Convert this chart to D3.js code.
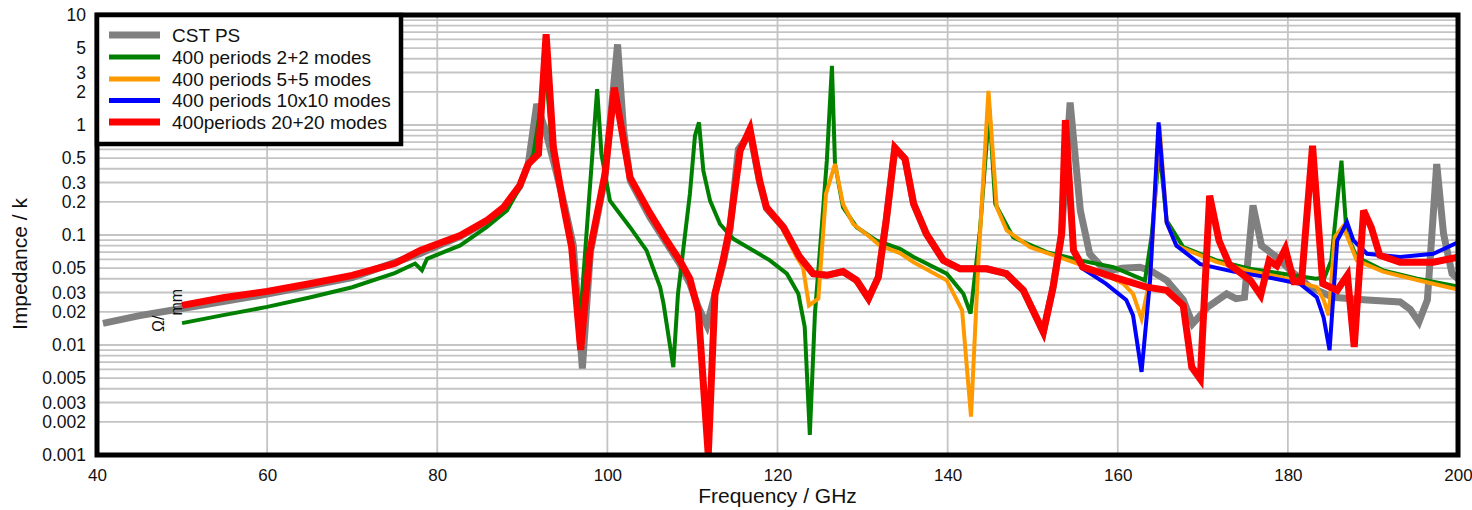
<!DOCTYPE html>
<html>
<head>
<meta charset="utf-8">
<script src="https://cdn.jsdelivr.net/npm/d3@7"></script>
<style>
  html, body { margin: 0; padding: 0; background: #fff; }
  svg { display: block; font-family: "Liberation Sans", Arial, sans-serif; }
</style>
</head>
<body>
<svg id="chart" width="1472" height="510"></svg>
<script>
// Longitudinal impedance vs frequency, [GHz, value]
const cstPS = [
  [40.7,0.0157],[45,0.0185],[50,0.0215],[60,0.029],[70,0.041],[78,0.068],[82.7,0.097],
  [85.8,0.132],[87.8,0.175],[89.7,0.275],[90.7,0.44],[91.7,1.55],[92.8,0.85],[93.9,0.4],
  [95,0.18],[96,0.08],[97.06,0.0061],[98,0.07],[99.7,0.33],[101.2,5.4],[101.9,0.9],
  [102.7,0.31],[105,0.145],[107,0.083],[108.5,0.055],[109.7,0.036],[110.7,0.022],
  [111.7,0.0151],[112.6,0.028],[113.6,0.055],[114.4,0.11],[115.4,0.6],[116.8,0.85],
  [117.9,0.3],[118.7,0.175],[120.7,0.117],[122.6,0.063],[124.2,0.0445],[125.8,0.043],
  [127.7,0.0465],[129.3,0.0387],[130.7,0.0264],[131.85,0.0414],[132.8,0.14],[133.8,0.62],
  [135,0.49],[136,0.192],[137.5,0.1025],[139.5,0.0588],[141.5,0.0493],[144.6,0.0493],
  [146.9,0.0445],[148.9,0.0314],[151.25,0.0131],[152.4,0.0336],[153.4,0.1025],[154.4,1.6],
  [155.6,0.167],[156.7,0.0675],[158.6,0.0465],[160.5,0.05],[162.6,0.051],[163.8,0.0477],
  [165.75,0.0387],[167.7,0.0257],[168.8,0.0156],[170.6,0.0222],[172.8,0.0292],[173.9,0.0264],
  [174.9,0.0272],[175.9,0.186],[176.9,0.08],[178.7,0.063],[180.3,0.0477],[182.6,0.0336],
  [185.3,0.0272],[189.3,0.0257],[193.2,0.0246],[194.4,0.021],[195.4,0.0162],[196.4,0.0257],
  [197.5,0.442],[198.3,0.1025],[199.3,0.0445],[200,0.04]
];

const modes2 = [
  [50,0.0158],[55,0.0188],[60,0.0222],[65,0.027],[70,0.0335],[75,0.045],[77.4,0.055],
  [78.2,0.0477],[78.8,0.0608],[82.7,0.0803],
  [85.8,0.118],[88.2,0.167],[89.7,0.27],[90.7,0.43],[91.3,0.545],[92.8,3.0],[93.5,0.6],
  [94.8,0.19],[95.8,0.07],[96.8,0.017],[98.8,2.12],[99.3,0.545],[100.3,0.2055],[102.66,0.1177],
  [104.6,0.0724],[106.2,0.0336],[106.6,0.0238],[107.75,0.0063],[108.3,0.0292],[109.7,0.236],
  [110.3,0.8],[110.77,1.055],[111.28,0.385],[112.07,0.2055],[113.24,0.126],[114.8,0.0923],
  [116.8,0.075],[119.1,0.0588],[121.1,0.0445],[122.45,0.0292],[123.2,0.0146],[123.8,0.00152],
  [124.4,0.0193],[125.2,0.1177],[125.8,0.474],[126.4,3.45],[126.76,0.442],[127.7,0.1787],
  [129.3,0.1177],[131.6,0.0891],[134.4,0.075],[136,0.063],[139.9,0.0445],[141.85,0.0292],
  [142.7,0.0193],[143.8,0.11],[144.9,1.4],[145.6,0.192],[147.7,0.0953],[151.65,0.0698],
  [155.6,0.0588],[159.5,0.051],[161.8,0.043],[163.2,0.0387],[164,0.1],[164.9,0.6],
  [165.75,0.135],[167.7,0.0776],[171.6,0.0588],[175.5,0.0493],[179.4,0.0445],[183.3,0.04],
  [184.3,0.041],[185.1,0.0588],[186.3,0.474],[186.9,0.1025],[188.1,0.063],[191.2,0.0477],
  [195.2,0.04],[200,0.034]
];

const modes5 = [
  [117.9,0.31],[118.7,0.18],[119.9,0.145],[122.25,0.063],[123,0.051],[123.7,0.0229],
  [124.8,0.0264],[125.7,0.236],[126.76,0.442],[127.7,0.192],[128.9,0.126],[130.9,0.0953],
  [132.05,0.08],[134.4,0.0685],[136,0.0565],[139.9,0.0387],[141.7,0.0207],[142.75,0.00223],
  [143.6,0.0543],[144.8,2.04],[145.77,0.1787],[146.95,0.11],[149.7,0.0776],[153.6,0.061],
  [157.5,0.0477],[160.65,0.0361],[161.8,0.0292],[162.8,0.0173],[163.8,0.04],[164.9,1.0],
  [165.75,0.13],[166.9,0.08],[171.6,0.057],[175.5,0.047],[179.4,0.041],[183.4,0.0336],
  [184.2,0.0257],[184.8,0.0186],[185.5,0.0953],[186.5,0.12],[188.1,0.0588],[191.2,0.0465],
  [195.2,0.039],[200,0.032]
];

const modes10 = [
  [155.6,0.051],[158.6,0.0361],[161,0.0257],[161.8,0.0186],[162.8,0.0057],[163.8,0.0387],
  [164.8,1.055],[165.75,0.13],[166.9,0.08],[169.7,0.0543],[173.6,0.0465],[177.5,0.0414],
  [181.4,0.0361],[183.4,0.0272],[184.2,0.0178],[184.9,0.009],[185.8,0.0891],[186.95,0.1306],
  [187.7,0.0891],[189.3,0.0675],[193.2,0.063],[197.1,0.0675],[200,0.086]
];

const modes20 = [
  [50,0.0229],[55,0.027],[60,0.0307],[65,0.036],[70,0.043],[75,0.055],[78,0.0724],
  [82.7,0.099],[85.8,0.135],[87.8,0.1786],[89.7,0.281],[90.7,0.442],[91.9,0.545],[92.8,6.68],
  [93.65,0.626],[94.8,0.192],[95.8,0.0776],[96.86,0.009],[97.96,0.0724],[99.72,0.359],
  [100.82,2.19],[102.66,0.334],[105,0.158],[106.97,0.0891],[108.5,0.0588],[109.7,0.04],
  [110.7,0.02],[111.86,0.001],[112.65,0.0292],[113.6,0.0588],[114.4,0.1177],[115.6,0.584],
  [116.76,0.918],[117.9,0.312],[118.7,0.1787],[120.7,0.1177],[122.6,0.063],[124.2,0.0445],
  [125.8,0.043],[127.7,0.0465],[129.3,0.0387],[130.7,0.0264],[131.85,0.0414],[132.8,0.14],
  [133.8,0.62],[135,0.491],[136,0.192],[137.5,0.1025],[139.5,0.0588],[141.46,0.0493],
  [144.6,0.0493],[146.9,0.0445],[148.9,0.0314],[151.25,0.0131],[152.4,0.0336],[153.4,0.1025],
  [153.85,1.11],[154.8,0.0724],[155.9,0.051],[159.5,0.0414],[163.4,0.0336],[165.75,0.0314],
  [167.7,0.0229],[168.7,0.0063],[169.7,0.0049],[170.8,0.228],[171.9,0.0891],[173.1,0.0543],
  [175.6,0.0387],[176.8,0.0283],[177.8,0.0588],[178.7,0.0524],[179.7,0.075],[180.7,0.0376],
  [181.6,0.0376],[182.9,0.648],[184.1,0.0361],[185.8,0.0314],[187,0.043],[187.8,0.0096],
  [188.9,0.167],[189.8,0.1177],[190.8,0.0655],[193.2,0.0565],[197.1,0.0565],[200,0.063]
];

const seriesNames = ["CST PS", "400 periods 2+2 modes", "400 periods 5+5 modes",
                     "400 periods 10x10 modes", "400periods 20+20 modes"];
const seriesColors = ["#808080", "#008000", "#ff9900", "#0000ff", "#ff0000"];
const seriesWidths = [7, 4, 4, 4, 7];
const legendWidths = [7, 5, 5, 5, 7];

const xTicks = [40, 60, 80, 100, 120, 140, 160, 180, 200];
const yTickLabels = [10, 5, 3, 2, 1, 0.5, 0.3, 0.2, 0.1, 0.05, 0.03, 0.02, 0.01,
                     0.005, 0.003, 0.002, 0.001];

const svg = d3.select("#chart");
const plotLeft = 97, plotRight = 1458, plotTop = 15, plotBottom = 455;

const x = d3.scaleLinear().domain([40, 200]).range([plotLeft, plotRight]);
const y = d3.scaleLog().domain([0.001, 10]).range([plotBottom, plotTop]);

// grid
const yGrid = [];
for (let e = -3; e <= 0; e++) for (let k = 1; k <= 9; k++) yGrid.push(k * Math.pow(10, e));
svg.append("g").selectAll("line").data(yGrid).join("line")
  .attr("x1", plotLeft).attr("x2", plotRight)
  .attr("y1", d => y(d)).attr("y2", d => y(d))
  .attr("stroke", "#c4c4c4").attr("stroke-width", 1.8);
svg.append("g").selectAll("line").data(xTicks.slice(1, -1)).join("line")
  .attr("x1", d => x(d)).attr("x2", d => x(d))
  .attr("y1", plotTop).attr("y2", plotBottom)
  .attr("stroke", "#c4c4c4").attr("stroke-width", 1.8);

// curves
svg.append("clipPath").attr("id", "plotclip").append("rect")
  .attr("x", plotLeft).attr("y", plotTop)
  .attr("width", plotRight - plotLeft).attr("height", plotBottom - plotTop);

const line = d3.line().x(d => x(d[0])).y(d => y(Math.max(d[1], 0.0009)));
const allSeries = [cstPS, modes2, modes5, modes10, modes20];
const plotG = svg.append("g").attr("clip-path", "url(#plotclip)");
allSeries.forEach((s, i) => {
  plotG.append("path").datum(s)
    .attr("d", line)
    .attr("fill", "none")
    .attr("stroke", seriesColors[i])
    .attr("stroke-width", seriesWidths[i])
    .attr("stroke-linejoin", "miter");
});

// frame
svg.append("rect").attr("x", plotLeft).attr("y", plotTop)
  .attr("width", plotRight - plotLeft).attr("height", plotBottom - plotTop)
  .attr("fill", "none").attr("stroke", "#000").attr("stroke-width", 5);

// axes labels
const yAxis = d3.axisLeft(y).tickValues(yTickLabels).tickSize(0).tickPadding(9)
  .tickFormat(d => String(d));
const gy = svg.append("g").attr("transform", `translate(${plotLeft - 2},0)`).call(yAxis);
gy.select(".domain").remove();
gy.selectAll("text").attr("font-size", 17.5).attr("fill", "#111")
  .attr("font-family", "Liberation Sans, Arial, sans-serif");

const xAxis = d3.axisBottom(x).tickValues(xTicks).tickSize(0).tickPadding(12)
  .tickFormat(d3.format("d"));
const gx = svg.append("g").attr("transform", `translate(0,${plotBottom + 2})`).call(xAxis);
gx.select(".domain").remove();
gx.selectAll("text").attr("font-size", 17).attr("fill", "#111")
  .attr("font-family", "Liberation Sans, Arial, sans-serif");

svg.append("text").attr("x", (plotLeft + plotRight) / 2).attr("y", 503)
  .attr("text-anchor", "middle").attr("font-size", 21).attr("fill", "#111")
  .text("Frequency / GHz");

svg.append("text").attr("transform", "translate(27,264) rotate(-90)")
  .attr("text-anchor", "middle").attr("font-size", 21).attr("fill", "#111")
  .text("Impedance / k");

// unit, drawn as a separate rotated label with a raised "Ω/"
const unit = svg.append("text").attr("transform", "translate(182,332) rotate(-90)")
  .attr("font-size", 16).attr("fill", "#111");
unit.append("tspan").attr("dy", -18).text("Ω/");
unit.append("tspan").attr("dy", 18).text("mm");

// legend
const lg = svg.append("g");
lg.append("rect").attr("x", plotLeft).attr("y", plotTop).attr("width", 304).attr("height", 129)
  .attr("fill", "#fff").attr("stroke", "#000").attr("stroke-width", 4.5);
const rowY = [35, 57, 79, 100.5, 122];
seriesNames.forEach((name, i) => {
  lg.append("line").attr("x1", 109).attr("x2", 160)
    .attr("y1", rowY[i]).attr("y2", rowY[i])
    .attr("stroke", seriesColors[i]).attr("stroke-width", legendWidths[i]);
  lg.append("text").attr("x", 172).attr("y", rowY[i]).attr("dy", "0.35em")
    .attr("font-size", 19).attr("fill", "#111").text(name);
});
</script>
</body>
</html>
